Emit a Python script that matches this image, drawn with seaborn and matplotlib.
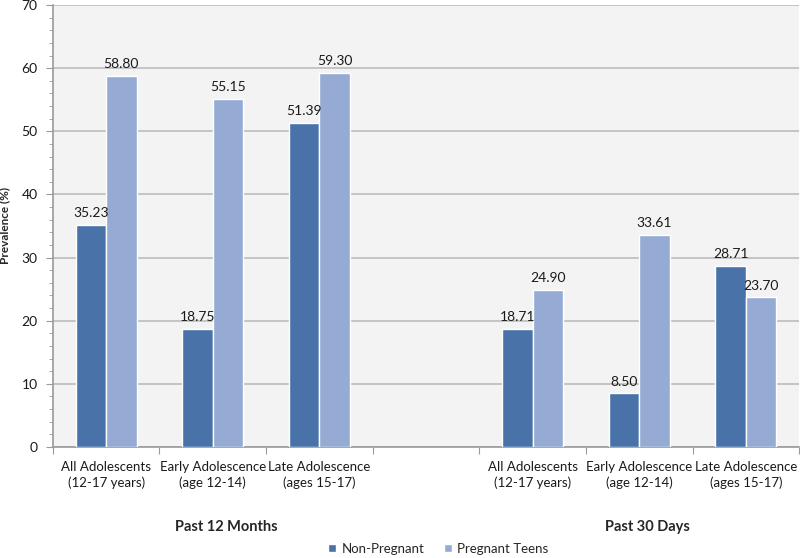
import matplotlib.pyplot as plt
from matplotlib.ticker import MultipleLocator
import seaborn as sns
import pandas as pd
import numpy as np

# category slots (one blank slot separates the two periods)
slots = ['m_all', 'm_early', 'm_late', 'gap', 'd_all', 'd_early', 'd_late']
tick_labels = ['All Adolescents\n(12-17 years)', 'Early Adolescence\n(age 12-14)',
               'Late Adolescence\n(ages 15-17)', '',
               'All Adolescents\n(12-17 years)', 'Early Adolescence\n(age 12-14)',
               'Late Adolescence\n(ages 15-17)']
data_slots = ['m_all', 'm_early', 'm_late', 'd_all', 'd_early', 'd_late']
non_pregnant = [35.23, 18.75, 51.39, 18.71, 8.50, 28.71]
pregnant = [58.80, 55.15, 59.30, 24.90, 33.61, 23.70]
series = ['Non-Pregnant', 'Pregnant Teens']
colors = ['#4872a8', '#95abd4']

df = pd.DataFrame({
    'slot': data_slots * 2,
    'group': [series[0]] * 6 + [series[1]] * 6,
    'value': non_pregnant + pregnant,
})

sns.set_style('white')
plt.rcParams['font.family'] = ['Lato', 'DejaVu Sans']

fig = plt.figure(figsize=(8, 5.58), dpi=100)
ax = fig.add_axes([0.066, 0.199, 0.933, 0.792])
ax.set_facecolor('#f3f3f3')

sns.barplot(data=df, x='slot', y='value', hue='group', order=slots,
            hue_order=series, palette=colors, width=0.57, dodge=True,
            edgecolor='white', linewidth=1, saturation=1, ax=ax, zorder=3)

for cont in ax.containers:
    ax.bar_label(cont, fmt='%.2f', padding=4, fontsize=10, color='#1a1a1a')

ax.set_ylim(0, 70)
ax.set_xlim(-0.5, 6.5)
ax.yaxis.set_major_locator(MultipleLocator(10))
ax.yaxis.set_minor_locator(MultipleLocator(2))
ax.grid(axis='y', which='major', color='#c4c4c4', linewidth=1.4, zorder=0)
ax.set_axisbelow(True)

ax.set_xticks(np.arange(-0.5, 7, 1))
ax.set_xticklabels([])
ax.set_xticks(np.arange(7), minor=True)
ax.set_xticklabels(tick_labels, minor=True, fontsize=9.5, color='#1a1a1a', linespacing=1.3)
ax.tick_params(axis='x', which='major', length=5, color='#9a9a9a', direction='out', bottom=True)
ax.tick_params(axis='x', which='minor', length=0, pad=10)
ax.tick_params(axis='y', which='major', length=5, color='#9a9a9a', direction='out', left=True,
               labelsize=10, labelcolor='#1a1a1a', pad=6)
ax.tick_params(axis='y', which='minor', length=3, color='#9a9a9a', direction='out', left=True)

for side in ['top', 'right']:
    ax.spines[side].set_visible(False)
for side in ['left', 'bottom']:
    ax.spines[side].set_color('#9a9a9a')
    ax.spines[side].set_linewidth(1.2)

ax.set_xlabel('')
ax.set_ylabel('Prevalence (%)', fontsize=8.5, fontweight='bold', labelpad=8)

trans = ax.get_xaxis_transform()
ax.text(1.13, -0.18, 'Past 12 Months', transform=trans, ha='center', va='center',
        fontsize=10.5, fontweight='bold')
ax.text(5.08, -0.18, 'Past 30 Days', transform=trans, ha='center', va='center',
        fontsize=10.5, fontweight='bold')

handles, labels = ax.get_legend_handles_labels()
ax.legend_.remove()
fig.legend(handles, labels, loc='center', bbox_to_anchor=(0.548, 0.017), ncol=2,
           frameon=False, fontsize=9.5, handlelength=0.6, handleheight=0.6,
           handletextpad=0.4, columnspacing=1.5)

fig.savefig('out.png', dpi=100)
plt.close(fig)
